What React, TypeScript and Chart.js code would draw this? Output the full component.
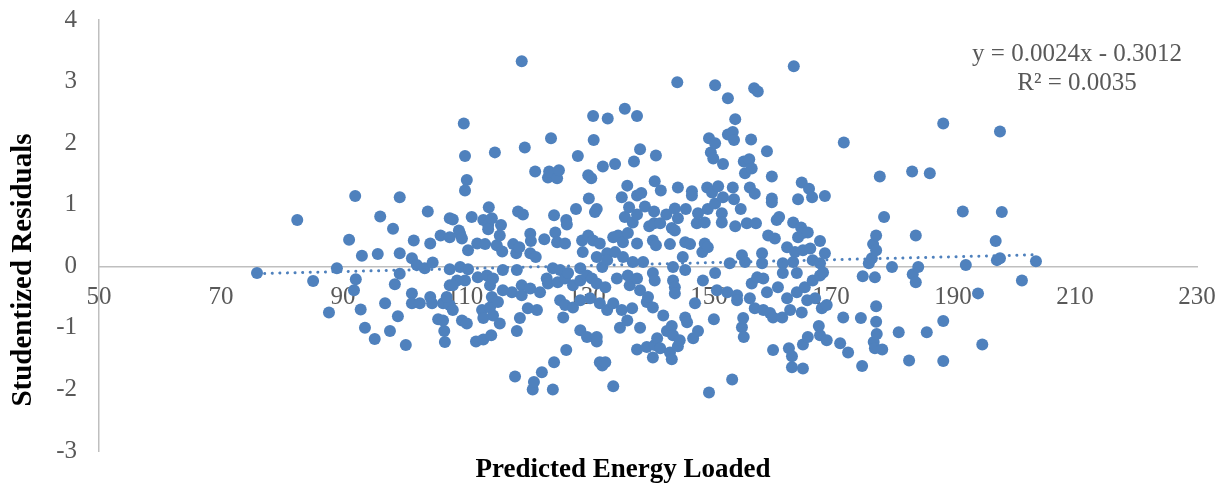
import { useEffect, useRef } from 'react';
import { Chart, registerables } from 'chart.js';

Chart.register(...registerables);

const predicted = [
  75.9, 82.5, 85.1, 87.7, 89.0, 91.0, 92.0, 92.1, 91.8, 92.9, 93.1, 93.6, 95.2, 96.1, 95.7, 96.9, 98.2, 97.7, 99.3, 99.0,
  99.3, 99.3, 98.5, 100.3, 101.3, 101.6, 102.1, 101.3, 101.3, 102.6, 103.4, 103.9, 104.3, 104.7, 104.3, 104.6, 105.6, 106.0, 106.4, 106.6,
  106.7, 107.5, 107.5, 107.5, 107.5, 107.5, 107.0, 108.0, 106.4, 108.0, 109.0, 109.2, 109.5, 109.2, 110.5, 108.7, 110.0, 108.0, 109.5, 110.3,
  109.8, 110.0, 110.3, 110.0, 110.5, 111.1, 112.0, 111.8, 112.1, 112.8, 113.0, 113.0, 113.0, 113.3, 113.6, 113.8, 113.8, 113.9, 114.4, 114.1,
  114.1, 114.3, 114.4, 114.6, 114.6, 114.9, 115.2, 115.4, 115.7, 115.7, 115.9, 116.1, 116.2, 116.2, 117.7, 117.9, 118.4, 118.5, 118.2, 118.5,
  118.7, 118.9, 119.0, 119.3, 119.3, 119.3, 119.5, 119.8, 120.3, 120.7, 120.8, 120.7, 120.7, 121.1, 121.3, 121.5, 121.6, 121.8, 122.3, 122.6,
  123.0, 123.4, 123.6, 123.6, 123.8, 124.1, 124.4, 124.4, 124.6, 124.6, 124.8, 125.1, 125.1, 125.4, 125.6, 125.6, 125.2, 126.4, 126.4, 126.4,
  126.1, 126.6, 126.7, 126.6, 126.9, 127.7, 127.7, 128.2, 128.5, 128.9, 128.9, 128.9, 128.9, 129.2, 129.3, 130.0, 130.0, 130.2, 130.2, 130.7,
  130.3, 130.5, 130.8, 131.0, 131.0, 131.1, 131.6, 131.3, 131.6, 131.6, 131.6, 131.6, 132.1, 132.1, 132.1, 132.5, 132.5, 132.6, 133.0, 133.0,
  133.3, 133.3, 133.3, 133.4, 134.3, 134.3, 134.3, 134.6, 134.6, 134.9, 135.1, 135.4, 135.7, 135.7, 135.9, 135.9, 136.2, 136.2, 136.6, 136.6,
  136.7, 136.7, 136.9, 137.0, 137.4, 137.5, 137.5, 137.7, 138.2, 138.2, 138.2, 138.2, 138.2, 138.2, 138.7, 138.7, 138.7, 138.9, 139.2, 139.5,
  139.8, 139.8, 140.0, 140.2, 140.8, 140.8, 140.8, 140.8, 141.0, 141.0, 141.1, 141.1, 141.1, 141.3, 141.3, 141.5, 142.0, 142.0, 142.1, 142.5,
  143.0, 143.1, 143.6, 143.6, 143.9, 143.9, 143.9, 144.1, 144.1, 144.1, 144.4, 144.4, 144.4, 144.4, 144.8, 144.9, 144.9, 144.9, 145.2, 145.7,
  146.1, 146.1, 146.1, 146.2, 146.4, 146.9, 147.2, 147.2, 147.4, 147.7, 148.0, 148.2, 148.2, 148.9, 149.0, 149.3, 149.3, 149.7, 149.8, 149.8,
  150.0, 150.0, 150.3, 150.5, 150.7, 150.8, 151.0, 151.0, 151.0, 151.0, 151.3, 151.5, 152.1, 152.1, 152.3, 152.3, 153.0, 153.1, 153.1, 153.4,
  153.8, 153.9, 153.9, 154.1, 154.1, 154.3, 154.3, 154.6, 154.6, 155.2, 155.4, 155.4, 155.6, 155.7, 155.7, 155.9, 155.9, 156.2, 156.6, 156.7,
  156.7, 156.9, 157.0, 157.0, 157.4, 157.5, 157.5, 157.7, 157.9, 158.0, 158.7, 158.7, 158.9, 158.9, 159.5, 159.5, 159.7, 160.0, 160.3, 160.3,
  160.3, 160.5, 160.5, 160.8, 161.1, 161.3, 161.5, 162.0, 162.1, 162.1, 162.8, 162.8, 163.1, 163.3, 163.6, 163.6, 163.8, 163.8, 163.9, 164.1,
  164.4, 164.4, 164.6, 164.6, 165.1, 165.2, 165.2, 165.4, 165.4, 165.4, 165.4, 165.7, 166.1, 166.2, 166.2, 166.4, 166.6, 166.9, 167.0, 167.0,
  167.4, 168.0, 168.2, 168.2, 168.2, 168.2, 168.5, 168.7, 169.0, 169.0, 169.3, 169.3, 171.5, 172.0, 172.1, 172.8, 174.9, 175.1, 175.2, 176.2,
  176.7, 176.9, 177.0, 177.2, 177.2, 177.4, 177.4, 177.4, 177.4, 177.5, 178.0, 178.4, 178.7, 180.0, 181.1, 182.8, 183.3, 183.4, 183.9, 183.9,
  184.3, 185.7, 186.2, 188.4, 188.4, 188.4, 191.6, 192.1, 194.1, 194.8, 197.0, 197.2, 197.7, 197.7, 198.0, 201.3, 203.6,
];

const residuals = [
  -0.11, 0.75, -0.24, -0.75, -0.03, 0.43, 1.14, -0.21, -0.39, -0.70, 0.17, -1.00, -1.18, 0.81, 0.20, -0.60, 0.61, -1.05, 1.12, -0.81,
  0.21, -0.12, -0.29, -1.28, 0.13, 0.42, 0.02, -0.44, -0.60, -0.60, -0.03, 0.89, 0.37, 0.06, -0.50, -0.60, -0.86, 0.50, -0.60, -1.05,
  -1.23, 0.78, 0.47, -0.05, -0.31, -0.63, -0.50, -0.71, -0.88, 0.76, 0.58, 0.53, 0.45, -0.01, -0.05, -0.23, -0.23, -0.31, -0.88, -0.93,
  2.32, 1.79, 1.40, 1.23, 0.26, 0.80, 0.37, -1.22, -0.18, -0.71, -0.84, -1.19, 0.75, 0.36, -0.15, 0.67, 0.60, 0.96, 0.78, -0.31,
  -0.67, -1.12, -0.50, -0.20, -0.80, 1.85, 0.34, -0.58, 0.50, -0.93, 0.67, 0.24, -0.06, -0.39, -0.42, 0.36, 0.21, -0.06, -1.79, -1.05,
  0.89, 0.31, -0.84, 3.33, -0.31, -0.47, 0.84, 1.93, -0.68, 0.53, 0.41, 0.21, -0.36, -2.00, -1.88, 1.54, 0.15, -0.71, -0.42, -1.72,
  0.44, -0.20, -0.28, 1.44, 1.54, 2.08, -0.03, -2.00, 0.83, -1.56, 0.55, 0.39, 1.43, 1.56, -0.06, -0.55, -0.26, 0.37, -0.20, -0.63,
  -0.83, 0.75, 0.68, -1.36, -0.11, -0.31, -0.67, 0.93, 1.79, -0.03, -0.23, -0.55, -1.04, 0.42, 0.23, -0.15, -1.15, 0.50, 1.48, 1.43,
  1.10, -0.52, -0.20, 2.44, 0.42, 2.05, 0.93, 0.88, 0.15, -0.28, -1.15, -1.22, 0.37, -0.60, -1.56, -0.01, -1.61, 1.62, -0.34, -1.56,
  0.21, 0.10, -0.71, 2.40, 0.47, -0.60, -1.95, 0.23, 1.66, -0.20, 0.50, -1.00, 1.12, -0.71, 0.39, 0.15, 2.56, 0.80, 1.31, -0.88,
  0.54, -0.15, 0.96, -0.31, -0.68, 0.07, 0.71, 1.70, 2.44, 1.15, 0.84, 0.37, -0.20, -1.35, 1.90, -0.39, -1.00, 1.19, 0.07, 0.97,
  -0.58, -1.31, -0.50, 0.65, 0.42, -0.11, -0.67, -1.48, 0.89, 0.70, 1.38, -0.23, -1.28, 1.80, 0.34, -1.17, 0.70, -1.33, 1.23, -0.80,
  0.84, -1.05, 0.36, -1.40, 0.62, -0.97, -1.51, -0.01, -0.23, -1.12, 0.94, 0.58, -0.34, -0.44, 2.99, 1.28, 0.78, -1.30, -1.20, 0.15,
  0.39, -0.06, -0.83, 0.93, -0.91, 0.36, 1.22, 1.15, -1.17, -0.60, 0.70, 0.86, -1.05, 0.23, -0.23, 0.71, 0.37, 1.28, 0.93, 0.31,
  2.08, -2.05, 1.85, 1.20, 1.75, -0.86, 2.94, 2.00, 1.02, -0.11, -0.39, 1.30, 0.86, 0.71, 1.66, 1.12, -0.42, 2.73, 2.14, 0.05,
  -1.84, 2.18, 1.28, 2.05, 1.09, 2.39, 0.65, -0.47, -0.55, 0.93, 0.18, -0.99, -0.84, 1.70, -1.15, 1.51, 0.07, 0.70, 1.74, 1.28,
  -0.52, 2.06, 1.59, -0.28, 2.89, 1.18, -0.68, 0.70, -0.18, 2.84, 0.21, 0.05, -0.20, -0.71, 1.87, -0.42, 0.50, -0.76, 1.46, 1.10,
  1.04, -0.83, -1.36, 0.45, 0.75, -0.34, 0.80, -0.83, 0.05, -0.11, 0.31, -0.52, -1.33, -0.71, -1.46, -1.64, 0.71, 0.07, 3.25, 0.23,
  -0.11, -0.42, 1.09, 0.47, 0.63, 1.36, -0.75, 0.54, 0.26, -1.27, -1.66, -0.34, -0.55, 0.55, -1.15, 1.26, 0.29, 1.12, 0.10, -0.23,
  -0.52, -0.97, 0.41, 0.05, -0.15, -1.12, -0.68, -0.10, 1.14, 0.21, -0.63, -1.20, -1.25, -0.83, 2.01, -1.40, -0.84, -1.62, -0.16, 0.05,
  0.13, 0.36, -1.23, -0.18, -1.33, 0.50, 0.26, -0.65, -0.90, -1.10, 1.46, -1.35, 0.80, -0.01, -1.07, -1.53, 1.54, -0.13, 0.50, -0.26,
  -0.01, -1.07, 1.51, 2.32, -0.89, -1.54, 0.89, 0.02, -0.44, -1.27, 0.41, 0.10, 0.13, 2.19, 0.88, -0.23, 0.08,
];

const trendX = [75.9, 203.6];
const trendY = [-0.119, 0.187];
const xTicks = [50, 70, 90, 110, 130, 150, 170, 190, 210, 230];
const yTicks = [-3, -2, -1, 0, 1, 2, 3, 4];
const equationLines = ['y = 0.0024x - 0.3012', 'R\u00B2 = 0.0035'];
const xTitle = 'Predicted Energy Loaded';
const yTitle = 'Studentized Residuals';

const POINT_COLOR = '#4F81BD';
const TEXT_GRAY = '#595959';
const AXIS_GRAY = '#BFBFBF';
const SERIF = '"Liberation Serif", "Times New Roman", serif';

const textPlugin = {
  id: 'extraText',
  afterDraw(chart: any) {
    const ctx = chart.ctx;
    ctx.save();
    ctx.fillStyle = '#000000';
    ctx.textAlign = 'center';
    ctx.textBaseline = 'middle';
    ctx.font = `bold 27px ${SERIF}`;
    ctx.fillText(xTitle, 623, 470);
    ctx.save();
    ctx.translate(24, 270);
    ctx.rotate(-Math.PI / 2);
    ctx.font = `bold 29px ${SERIF}`;
    ctx.fillText(yTitle, 0, 0);
    ctx.restore();
    ctx.fillStyle = TEXT_GRAY;
    ctx.font = `25px ${SERIF}`;
    ctx.fillText(equationLines[0], 1077, 54);
    ctx.fillText(equationLines[1], 1077, 83);
    ctx.restore();
  },
};

const zeroScalePadding = (s: any) => {
  s.paddingTop = 0;
  s.paddingBottom = 0;
  s.paddingLeft = 0;
  s.paddingRight = 0;
};

export default function App() {
  const canvasRef = useRef<HTMLCanvasElement | null>(null);

  useEffect(() => {
    const canvas = canvasRef.current;
    if (!canvas) return;
    const points = predicted.map((x, i) => ({ x, y: residuals[i] }));
    const trend = trendX.map((x, i) => ({ x, y: trendY[i] }));
    const chart = new Chart(canvas, {
      type: 'scatter',
      data: {
        datasets: [
          {
            type: 'line',
            label: 'Trend',
            data: trend,
            borderColor: POINT_COLOR,
            borderWidth: 3,
            borderDash: [0.1, 7.5],
            borderCapStyle: 'round',
            pointRadius: 0,
            fill: false,
            order: 0,
          } as any,
          {
            label: 'Residuals',
            data: points,
            backgroundColor: POINT_COLOR,
            borderColor: POINT_COLOR,
            borderWidth: 0,
            pointRadius: 6,
            pointHoverRadius: 6,
            order: 1,
          },
        ],
      },
      options: {
        responsive: false,
        animation: false,
        layout: { padding: { left: 0, right: 24, top: 20, bottom: 35 } },
        plugins: {
          legend: { display: false },
          tooltip: { enabled: false },
          title: { display: false },
        },
        scales: {
          x: {
            type: 'linear',
            position: { y: 0 } as any,
            min: 50,
            max: 230,
            grid: { display: false, drawTicks: false },
            border: { display: true, color: AXIS_GRAY, width: 1.5 },
            ticks: {
              color: TEXT_GRAY,
              font: { family: SERIF, size: 25 },
              padding: 16,
              autoSkip: false,
              maxRotation: 0,
            },
            afterBuildTicks: (s: any) => {
              s.ticks = xTicks.map((v) => ({ value: v }));
            },
            afterFit: zeroScalePadding,
          },
          y: {
            type: 'linear',
            min: -3,
            max: 4,
            grid: { display: false, drawTicks: false },
            border: { display: true, color: AXIS_GRAY, width: 1.5 },
            ticks: {
              color: TEXT_GRAY,
              font: { family: SERIF, size: 25 },
              padding: 22,
              autoSkip: false,
            },
            afterBuildTicks: (s: any) => {
              s.ticks = yTicks.map((v) => ({ value: v }));
            },
            afterFit: (s: any) => {
              s.width = 99;
              zeroScalePadding(s);
            },
          },
        },
      },
      plugins: [textPlugin],
    });
    return () => chart.destroy();
  }, []);

  return (
    <div style={{ position: 'fixed', left: 0, top: 0, width: 1221, height: 486, background: '#ffffff' }}>
      <canvas ref={canvasRef} width={1221} height={486} style={{ width: 1221, height: 486 }} />
    </div>
  );
}
